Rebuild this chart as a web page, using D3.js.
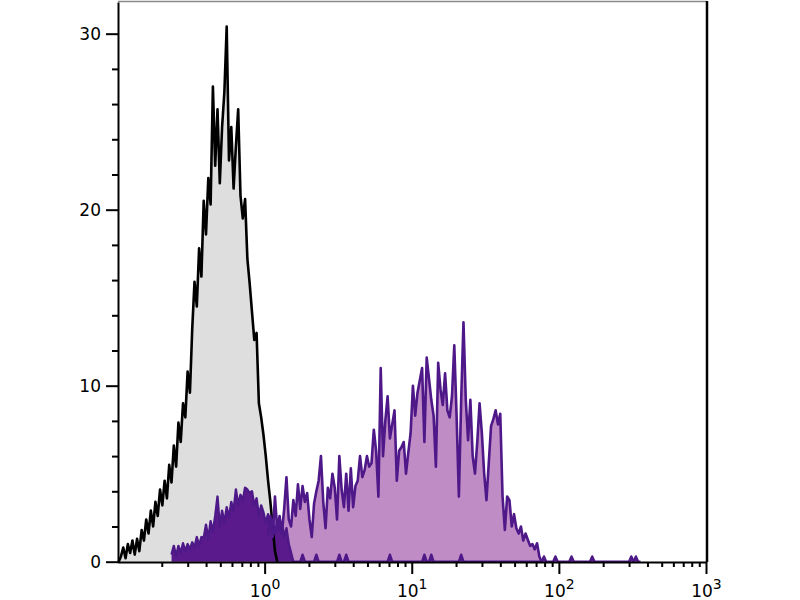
<!DOCTYPE html>
<html><head><meta charset="utf-8">
<script src="https://cdn.jsdelivr.net/npm/d3@7/dist/d3.min.js"></script>
<style>body{margin:0;background:#fff}svg{display:block}</style>
</head><body>
<svg id="chart" width="800" height="600"></svg>
<script>
// ---- data (histogram channels, 64 channels per decade starting at 10^-1) ----
const channelsPerDecade = 64;
const firstDecade = -1;

const controlStart = 0;
const controlCounts = [
  0, 0.3, 0.8, 0.2, 1.0, 0.5, 1.2, 0.4, 1.3, 0.6,
  1.8, 1.2, 2.4, 1.6, 2.9, 2.0, 3.4, 2.6, 4.1, 3.2,
  4.6, 3.6, 5.5, 4.5, 6.6, 5.4, 7.9, 6.8, 9.0, 8.2,
  10.8, 9.6, 13.2, 15.9, 14.5, 17.8, 16.2, 20.5, 18.6, 21.8,
  20.3, 27.0, 22.5, 25.7, 21.5, 24.7, 26.7, 30.4, 22.8, 24.7,
  21.2, 23.6, 25.7, 20.8, 19.5, 20.6, 17.2, 15.8, 14.2, 12.6,
  13.0, 9.0, 8.2, 7.2, 6.0, 4.6, 3.4, 2.0, 0.6, 0
];

const stainedStart = 65;
const stainedCounts = [
  1.5, 2.6, 1.4, 3.7, 1.8, 2.6, 1.6, 3.0, 4.8, 2.4,
  2.0, 3.5, 2.6, 4.4, 3.0, 4.3, 3.4, 3.9, 2.4, 1.4,
  3.3, 4.0, 4.6, 6.0, 3.4, 1.9, 4.2, 3.6, 5.0, 4.2,
  2.4, 6.0, 4.1, 3.1, 5.0, 2.9, 5.3, 3.1, 4.3, 4.6,
  6.0, 4.8, 5.2, 6.0, 5.4, 5.6, 7.5, 6.3, 3.7, 11.0,
  6.0, 8.0, 9.4, 7.0, 7.8, 8.6, 4.6, 6.3, 6.5, 6.8,
  5.0, 6.2, 7.3, 10.0, 8.3, 9.6, 10.3, 11.0, 6.8, 11.6,
  10.4, 9.2, 8.3, 5.4, 11.3, 9.8, 8.9, 10.7, 8.6, 8.2,
  9.4, 12.3, 8.3, 3.7, 9.2, 13.6, 9.2, 6.9, 9.2, 6.0,
  5.0, 6.8, 9.0, 7.3, 5.0, 3.5, 5.6, 7.7, 8.1, 8.6,
  7.8, 8.4, 3.7, 1.8, 3.7, 3.5, 2.0, 2.7, 1.9, 1.6,
  2.0, 1.2, 1.6, 1.25, 0.9, 1.0, 0.7, 1.05, 0.3, 0
];

const lowStart = 23;
const lowCounts = [
  0.4, 0.9, 0.3, 0.9, 0.5, 1.05, 0.6, 1.0, 0.7, 1.1,
  0.8, 1.4, 0.9, 1.4, 1.35, 2.1, 1.3, 2.3, 1.7, 2.6,
  3.7, 2.0, 2.9, 2.2, 3.1, 2.5, 3.4, 2.9, 4.1, 3.2,
  3.8, 3.5, 4.2, 4.1, 3.9, 4.0, 3.2, 3.6, 2.6, 3.2,
  2.8, 2.2, 2.7, 1.9, 2.4, 1.6, 2.3, 1.8, 2.2, 1.4,
  1.9, 1.0, 0.5, 0
];
const lowEnd = 227;
const lowBlipChannels = [80, 86, 96, 99, 118, 133, 136, 149, 185, 190, 197, 206, 223, 225];
const lowBlipCounts   = [0.4, 0.4, 0.4, 0.4, 0.4, 0.4, 0.4, 0.4, 0.3, 0.3, 0.3, 0.3, 0.3, 0.3];

const yMajorTicks = [0, 10, 20, 30];
const yMinorTicks = [2, 4, 6, 8, 12, 14, 16, 18, 22, 24, 26, 28];
const xMajorTicks = [1, 10, 100, 1000];
const xMajorExponents = ["0", "1", "2", "3"];
const xMinorTicks = [0.2,0.3,0.4,0.5,0.6,0.7,0.8,0.9, 2,3,4,5,6,7,8,9, 20,30,40,50,60,70,80,90, 200,300,400,500,600,700,800,900];

// ---- drawing ----
const svg = d3.select("#chart");
const x = d3.scaleLog().domain([0.1, 1000]).range([117.5, 706]);
const y = d3.scaleLinear().domain([0, 31.8]).range([561.7, 2]);
const chVal = ch => Math.pow(10, firstDecade + (ch + 0.5) / channelsPerDecade);
const toPts = (start, counts) => counts.map((c, i) => ({ v: chVal(start + i), c }));

const controlPts = toPts(controlStart, controlCounts);
const stainedPts = toPts(stainedStart, stainedCounts);
const lowFull = [];
for (let ch = lowStart; ch <= lowEnd; ch++) {
  let c = 0;
  if (ch - lowStart < lowCounts.length) c = lowCounts[ch - lowStart];
  const b = lowBlipChannels.indexOf(ch);
  if (b >= 0) c = lowBlipCounts[b];
  lowFull.push(c);
}
const lowPts = toPts(lowStart, lowFull);

const area = d3.area().x(d => x(d.v)).y0(y(0)).y1(d => y(d.c));
const line = d3.line().x(d => x(d.v)).y(d => y(d.c));

svg.append("path").datum(controlPts).attr("d", area).attr("fill", "#dedede");
svg.append("path").datum(stainedPts).attr("d", area).attr("fill", "#c08cc5");
svg.append("path").datum(lowPts).attr("d", area).attr("fill", "#5a1a8c");
svg.append("path").datum(controlPts).attr("d", line).attr("fill", "none")
  .attr("stroke", "#000").attr("stroke-width", 2.6).attr("stroke-linejoin", "round");
svg.append("path").datum(stainedPts).attr("d", line).attr("fill", "none")
  .attr("stroke", "#4e1889").attr("stroke-width", 2.6).attr("stroke-linejoin", "round");
svg.append("path").datum(lowPts).attr("d", line).attr("fill", "none")
  .attr("stroke", "#4e1889").attr("stroke-width", 2.4).attr("stroke-linejoin", "round");

// frame
svg.append("line").attr("x1", 118).attr("x2", 707).attr("y1", 1.5).attr("y2", 1.5)
  .attr("stroke", "#8a8a8a").attr("stroke-width", 1.5);
svg.append("line").attr("x1", 707).attr("x2", 707).attr("y1", 1).attr("y2", 562)
  .attr("stroke", "#000").attr("stroke-width", 2.5);

const font = "DejaVu Sans";
function styleAxis(g) {
  g.selectAll("path, line").attr("stroke", "#000").attr("stroke-width", 2);
  g.attr("font-family", font);
}

// y axis
const yAxis = svg.append("g").attr("transform", "translate(118,0)")
  .call(d3.axisLeft(y).tickValues(yMajorTicks).tickSize(12).tickSizeOuter(0).tickPadding(5).tickFormat(d3.format("d")));
yAxis.call(styleAxis).attr("font-size", 17);
yAxis.selectAll("text").attr("fill", "#000");
svg.append("g").attr("transform", "translate(118,0)")
  .call(d3.axisLeft(y).tickValues(yMinorTicks).tickSize(6).tickFormat(""))
  .call(g => g.select(".domain").remove()).call(styleAxis);

// x axis
const xAxis = svg.append("g").attr("transform", "translate(0,562)")
  .call(d3.axisBottom(x).tickValues(xMajorTicks).tickSize(12).tickSizeOuter(0).tickFormat(""));
xAxis.call(styleAxis);
svg.append("g").attr("transform", "translate(0,562)")
  .call(d3.axisBottom(x).tickValues(xMinorTicks).tickSize(5).tickFormat(""))
  .call(g => g.select(".domain").remove()).call(styleAxis);
xAxis.selectAll(".tick").each(function (d, i) {
  const t = d3.select(this).append("text")
    .attr("y", 35).attr("text-anchor", "middle").attr("fill", "#000")
    .attr("font-family", font).attr("font-size", 17);
  t.append("tspan").text("10");
  t.append("tspan").attr("dy", -8).attr("font-size", 14).text(xMajorExponents[i]);
});
</script>
</body></html>
